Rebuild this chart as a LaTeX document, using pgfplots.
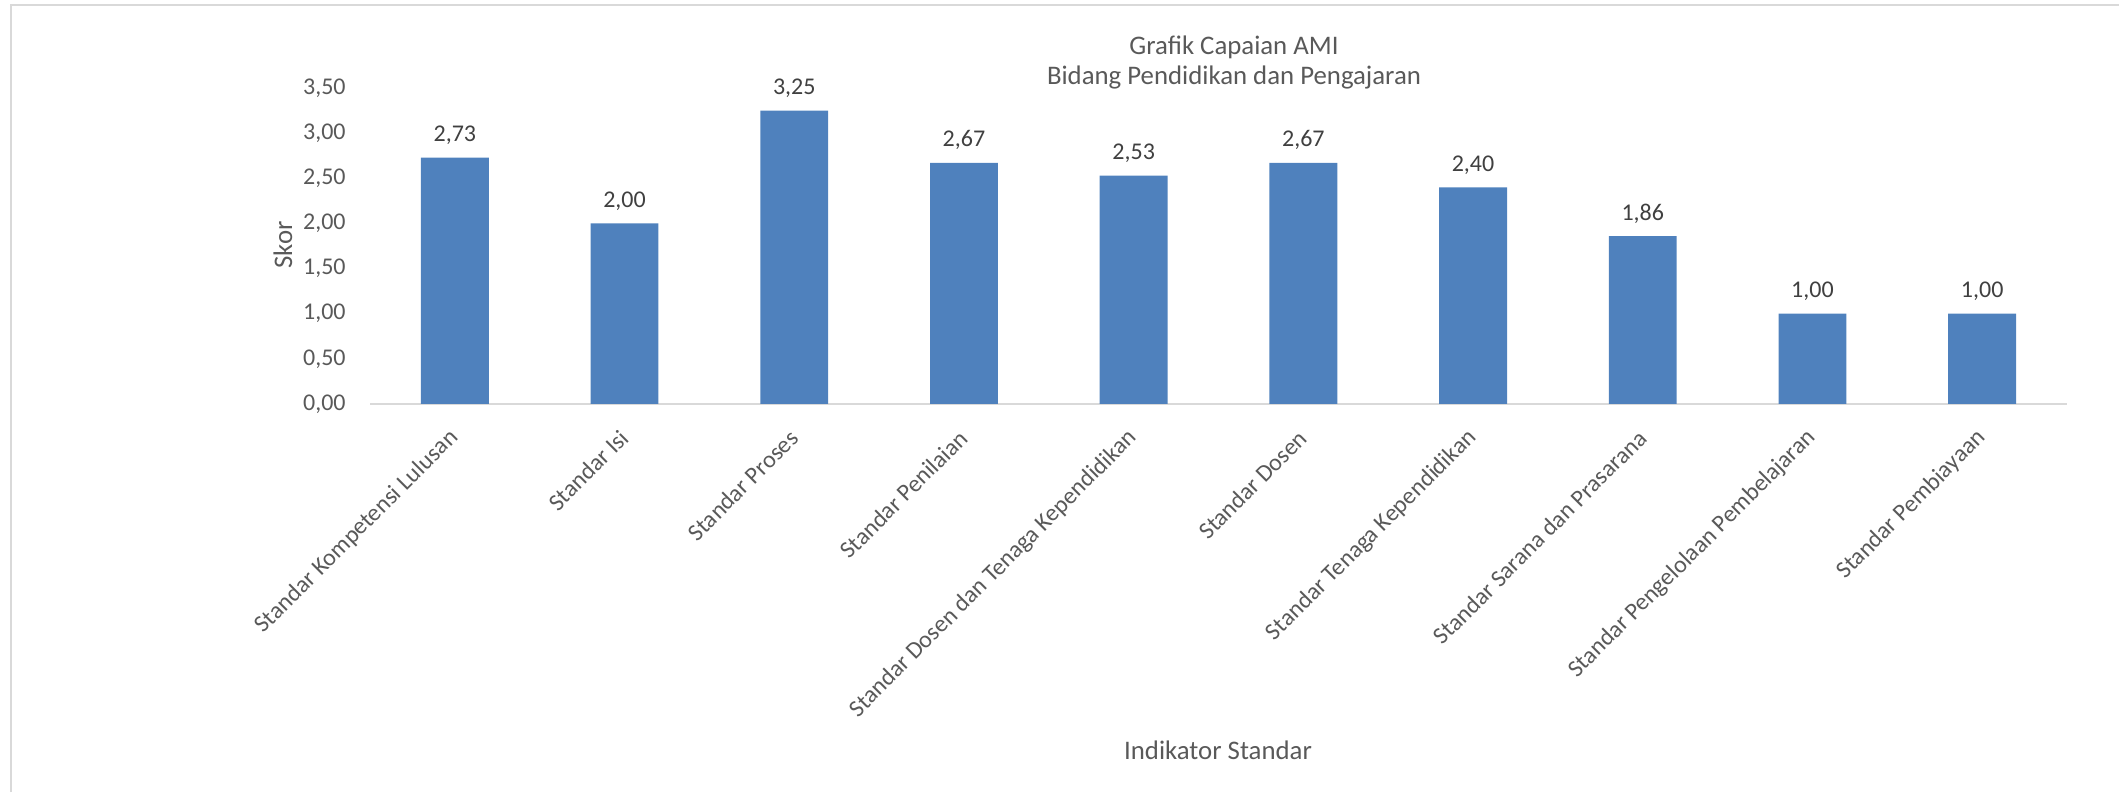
\documentclass[border=0pt]{standalone}
\usepackage{fontspec}
\setmainfont{Carlito}
\usepackage{pgfplots}
\pgfplotsset{compat=1.18}
\definecolor{barblue}{HTML}{4F81BD}
\definecolor{txtgray}{HTML}{595959}
\definecolor{lblgray}{HTML}{404040}
\definecolor{linegray}{HTML}{D9D9D9}
\begin{document}
\fontsize{12}{14}\selectfont
\begin{tikzpicture}
\path[use as bounding box] (0,0) rectangle (1059.5pt,396pt);
\draw[linegray, line width=1pt] (5.25pt,0pt) -- (5.25pt,393.5pt) -- (1059.5pt,393.5pt);
\begin{axis}[
  at={(185pt,194pt)}, anchor=south west,
  scale only axis, width=848.5pt, height=158pt,
  ymin=0, ymax=3.5,
  ytick={0,0.5,1,1.5,2,2.5,3,3.5},
  xmin=-0.5, xmax=9.5,
  xtick={0,...,9},
  xticklabels={Standar Kompetensi Lulusan, Standar Isi, Standar Proses, Standar Penilaian, Standar Dosen dan Tenaga Kependidikan, Standar Dosen, Standar Tenaga Kependidikan, Standar Sarana dan Prasarana, Standar Pengelolaan Pembelajaran, Standar Pembiayaan},
  axis lines*=left,
  y axis line style={draw=none},
  x axis line style={draw=linegray, line width=1pt},
  major tick length=0pt,
  yticklabel style={/pgf/number format/fixed, /pgf/number format/fixed zerofill, /pgf/number format/precision=2, /pgf/number format/use comma, /pgf/number format/assume math mode=true, text=txtgray, inner sep=0pt, anchor=east},
  yticklabel shift=12pt,
  xticklabel style={text=txtgray, inner sep=0pt, rotate=45, anchor=east},
  xticklabel shift=15pt,
  ybar, bar width=0.4,
  nodes near coords={\pgfmathprintnumber[fixed,fixed zerofill,precision=2,use comma,assume math mode=true]{\pgfplotspointmeta}},
  every node near coord/.append style={text=lblgray, anchor=base, inner sep=0pt, yshift=8pt},
  clip=false,
]
\addplot[fill=barblue, draw=none] coordinates {
 (0,2.73) (1,2.00) (2,3.25) (3,2.67) (4,2.53) (5,2.67) (6,2.40) (7,1.86) (8,1.00) (9,1.00)
};
\end{axis}
\begin{scope}[every node/.style={text=txtgray, font=\fontsize{13.4}{16}\selectfont}]
\node at (617pt,372.5pt) {Grafik Capaian AMI};
\node at (617pt,357pt) {Bidang Pendidikan dan Pengajaran};
\node at (609pt,21pt) {Indikator Standar};
\node[rotate=90] at (141.5pt,273.5pt) {Skor};
\end{scope}
\end{tikzpicture}
\end{document}
